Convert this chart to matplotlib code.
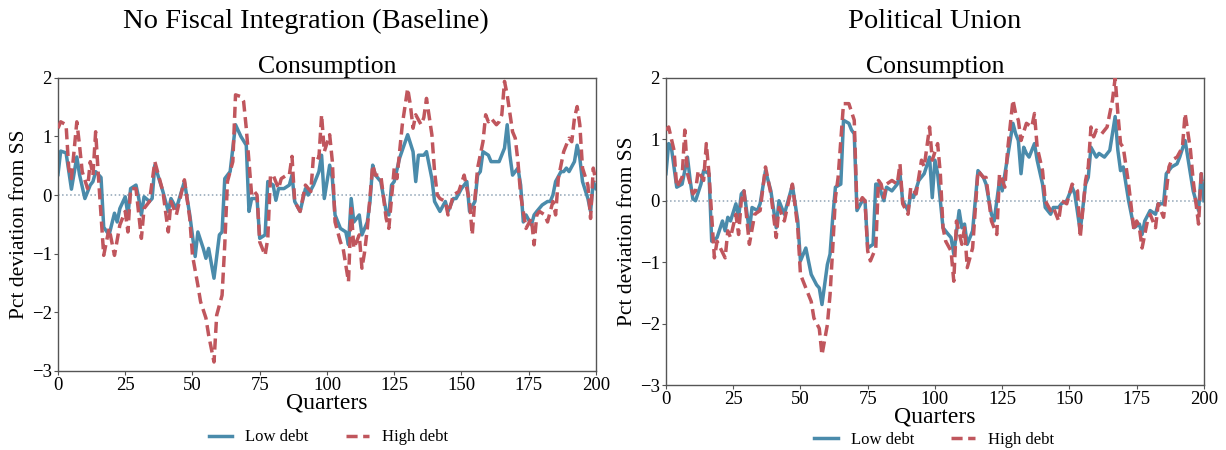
import matplotlib
matplotlib.use("Agg")
import matplotlib.pyplot as plt

# quarters / values, left panel (no fiscal integration)
q_base_low = [0, 1, 3, 5, 7, 8, 10, 12, 13, 14, 16, 17, 19, 21, 22, 23, 25, 26, 27, 29,
              30, 31, 32, 34, 35, 36, 39, 41, 42, 44, 47, 49, 51, 52, 54, 55, 56, 58, 60, 61,
              62, 64, 66, 68, 70, 71, 72, 74, 75, 77, 78, 80, 81, 82, 84, 86, 87, 88, 90, 92,
              93, 95, 97, 98, 99, 101, 102, 103, 105, 107, 108, 109, 110, 112, 113, 115, 116, 117, 118, 120,
              122, 123, 124, 125, 127, 130, 132, 133, 134, 136, 137, 139, 140, 142, 144, 145, 147, 148, 150, 152,
              153, 155, 156, 157, 158, 160, 161, 163, 164, 166, 167, 168, 169, 171, 172, 173, 174, 176, 177, 178,
              180, 182, 183, 184, 185, 187, 188, 189, 190, 192, 193, 194, 195, 197, 198, 199, 200]
base_low = [0.35, 0.75, 0.72, 0.10, 0.65, 0.35, -0.06, 0.17, 0.23, 0.40, 0.30, -0.55, -0.68, -0.31, -0.46, -0.23, -0.03, -0.34, 0.11, 0.17,
            -0.05, -0.34, -0.03, -0.11, -0.06, 0.51, 0.06, -0.28, -0.06, -0.23, 0.23, -0.34, -1.05, -0.63, -0.91, -1.08, -0.91, -1.42, -0.68, -0.63,
            0.28, 0.40, 1.20, 1.00, 0.85, -0.28, -0.06, -0.06, -0.74, -0.68, 0.23, 0.17, -0.09, 0.11, 0.11, 0.17, 0.34, -0.11, -0.28, 0.11,
            0.00, 0.17, 0.40, 0.68, -0.06, 0.51, 0.28, -0.34, -0.57, -0.63, -0.85, -0.06, -0.46, -0.34, -0.68, -0.46, -0.11, 0.51, 0.34, 0.23,
            -0.28, -0.34, 0.17, 0.23, 0.63, 1.03, 0.74, 0.23, 0.68, 0.68, 0.74, 0.28, -0.11, -0.28, -0.11, -0.28, -0.06, -0.06, 0.11, 0.23,
            -0.28, -0.11, 0.34, 0.40, 0.74, 0.68, 0.57, 0.57, 0.57, 0.80, 1.20, 0.68, 0.34, 0.46, 0.17, -0.46, -0.34, -0.51, -0.34, -0.28,
            -0.17, -0.11, -0.11, 0.00, 0.23, 0.40, 0.40, 0.46, 0.40, 0.57, 0.85, 0.63, 0.23, -0.06, -0.28, 0.23, 0.11]

q_base_high = [0, 1, 3, 4, 5, 7, 8, 9, 11, 12, 13, 14, 15, 17, 19, 21, 23, 25, 26, 27,
               29, 31, 32, 34, 36, 39, 41, 42, 44, 47, 49, 50, 52, 53, 55, 56, 58, 59, 61, 62,
               63, 65, 66, 68, 69, 70, 72, 73, 74, 75, 77, 78, 79, 80, 82, 83, 85, 86, 87, 88,
               90, 92, 94, 95, 97, 98, 99, 101, 102, 103, 105, 106, 108, 109, 110, 112, 113, 114, 115, 117,
               118, 120, 122, 123, 125, 126, 128, 130, 131, 132, 133, 135, 136, 137, 139, 140, 141, 142, 144, 145,
               147, 149, 151, 153, 154, 155, 156, 158, 159, 160, 161, 163, 164, 165, 166, 167, 169, 170, 171, 172,
               174, 176, 177, 178, 179, 181, 182, 184, 185, 186, 187, 188, 190, 191, 192, 193, 194, 195, 197, 198,
               199, 200]
base_high = [1.14, 1.25, 1.20, 0.46, 0.28, 1.25, 0.85, 0.40, 0.11, 0.57, 0.34, 1.08, 0.34, -1.03, -0.57, -1.03, -0.51, -0.28, -0.63, 0.11,
             0.11, -0.74, -0.23, -0.11, 0.57, 0.06, -0.63, -0.11, -0.34, 0.26, -0.40, -1.03, -1.54, -1.82, -2.10, -2.39, -2.85, -2.05, -1.71, -0.85,
             0.23, 0.57, 1.71, 1.68, 1.60, 1.14, 0.00, 0.06, 0.00, -0.80, -1.03, -0.74, 0.34, 0.34, 0.11, 0.28, 0.34, 0.34, 0.66, -0.11,
             -0.28, 0.17, 0.06, 0.68, 0.63, 1.37, 0.74, 1.03, 0.57, -0.46, -0.80, -0.91, -1.48, -0.23, -0.91, -0.68, -1.25, -0.97, -0.57, 0.51,
             0.34, 0.34, -0.40, -0.57, 0.46, 0.28, 1.20, 1.82, 1.54, 1.14, 1.37, 1.20, 1.32, 1.65, 1.03, 0.40, 0.00, -0.06, -0.11, -0.34,
             0.00, 0.06, 0.34, -0.11, -0.68, -0.06, 0.46, 0.91, 1.37, 1.25, 1.31, 1.20, 1.25, 1.37, 1.94, 1.71, 1.08, 0.97, 0.57, 0.00,
             -0.57, -0.40, -0.85, -0.34, -0.28, -0.34, -0.46, -0.11, -0.34, 0.28, 0.51, 0.74, 0.97, 0.91, 1.31, 1.51, 1.20, 0.46, 0.17, -0.40,
             0.46, 0.23]

# right panel (political union)
q_union_low = [0, 1, 2, 3, 4, 6, 8, 9, 10, 11, 13, 14, 16, 17, 19, 21, 22, 23, 24, 26,
               27, 28, 29, 31, 32, 34, 35, 37, 39, 41, 42, 44, 47, 49, 50, 52, 54, 56, 57, 58,
               60, 61, 62, 63, 65, 66, 68, 69, 70, 71, 73, 74, 75, 77, 78, 79, 81, 82, 84, 86,
               87, 88, 90, 91, 92, 94, 96, 98, 99, 100, 101, 103, 105, 106, 107, 109, 110, 111, 112, 114,
               116, 118, 119, 121, 122, 124, 125, 127, 129, 130, 131, 132, 133, 134, 135, 137, 138, 140, 141, 143,
               144, 146, 147, 149, 151, 152, 154, 156, 157, 158, 160, 161, 163, 165, 167, 168, 169, 170, 172, 174,
               176, 177, 178, 180, 182, 183, 185, 186, 188, 190, 191, 193, 194, 196, 197, 198, 199, 200]
union_low = [0.44, 0.93, 0.87, 0.55, 0.22, 0.27, 0.71, 0.33, 0.03, 0.00, 0.27, 0.49, 0.44, -0.66, -0.60, -0.33, -0.49, -0.27, -0.33, -0.05,
             -0.27, 0.11, 0.16, -0.49, -0.11, -0.16, -0.05, 0.49, 0.16, -0.44, 0.00, -0.22, 0.25, -0.33, -0.98, -0.77, -1.20, -1.37, -1.42, -1.69,
             -1.04, -0.87, -0.27, 0.22, 0.27, 1.31, 1.26, 1.15, 1.09, -0.16, 0.00, 0.00, -0.77, -0.71, 0.27, 0.27, 0.00, 0.22, 0.16, 0.27,
             0.44, 0.00, -0.16, 0.11, 0.05, 0.33, 0.44, 0.71, 0.05, 0.66, 0.44, -0.44, -0.55, -0.60, -0.87, -0.16, -0.44, -0.38, -0.71, -0.49,
             0.49, 0.38, 0.27, -0.22, -0.33, 0.33, 0.16, 0.71, 1.26, 1.09, 0.98, 0.44, 0.87, 0.77, 0.71, 0.93, 0.66, 0.27, -0.11, -0.22,
             -0.11, -0.11, -0.05, 0.00, 0.22, 0.11, -0.49, 0.27, 0.38, 0.87, 0.71, 0.77, 0.71, 0.82, 1.37, 0.82, 0.49, 0.55, 0.00, -0.44,
             -0.38, -0.55, -0.33, -0.16, -0.22, -0.05, -0.05, 0.44, 0.55, 0.60, 0.71, 0.98, 0.71, 0.16, 0.00, -0.16, 0.44, 0.00]

q_union_high = [0, 1, 3, 4, 6, 7, 8, 10, 11, 12, 14, 15, 16, 18, 19, 22, 23, 24, 26, 27,
                28, 29, 31, 33, 35, 37, 39, 41, 42, 44, 47, 49, 50, 52, 54, 55, 57, 58, 60, 61,
                62, 63, 64, 66, 68, 70, 71, 73, 74, 75, 76, 78, 79, 80, 81, 82, 84, 86, 87, 88,
                90, 91, 93, 95, 96, 98, 99, 101, 102, 103, 104, 106, 107, 108, 110, 111, 112, 114, 116, 118,
                119, 121, 123, 124, 126, 127, 129, 130, 131, 132, 134, 136, 137, 138, 140, 141, 143, 144, 146, 147,
                149, 151, 153, 154, 156, 157, 158, 159, 160, 162, 164, 166, 167, 168, 169, 170, 172, 174, 175, 176,
                177, 179, 180, 182, 183, 185, 187, 188, 190, 192, 193, 195, 196, 198, 199, 200]
union_high = [1.15, 1.20, 0.82, 0.22, 0.38, 1.15, 0.44, 0.11, 0.16, 0.49, 0.33, 0.93, 0.44, -0.93, -0.66, -0.93, -0.49, -0.60, -0.22, -0.55,
              0.00, 0.16, -0.71, -0.22, -0.16, 0.55, 0.11, -0.60, -0.11, -0.33, 0.27, -0.44, -1.20, -1.42, -1.64, -1.91, -2.08, -2.51, -2.02, -1.53,
              -0.77, 0.05, 0.38, 1.58, 1.58, 1.31, -0.11, 0.05, 0.00, -0.82, -0.98, -0.77, 0.33, 0.27, 0.05, 0.27, 0.33, 0.27, 0.60, -0.05,
              -0.22, 0.22, 0.11, 0.66, 0.55, 1.20, 0.66, 0.93, 0.44, -0.44, -0.66, -0.82, -1.31, -0.33, -0.71, -0.44, -1.09, -0.77, 0.49, 0.38,
              0.38, -0.33, -0.55, 0.44, 0.22, 0.82, 1.64, 1.42, 1.31, 0.98, 1.26, 1.20, 1.42, 0.87, 0.49, 0.00, -0.16, -0.11, -0.33, 0.00,
              -0.05, 0.27, 0.16, -0.60, 0.33, 0.55, 1.20, 1.04, 1.15, 1.09, 1.20, 1.64, 2.00, 1.42, 0.93, 0.87, 0.27, -0.49, -0.33, -0.44,
              -0.77, -0.33, -0.22, -0.44, -0.05, -0.27, 0.55, 0.66, 0.71, 0.87, 1.42, 0.82, 0.33, -0.38, 0.44, 0.33]

panel_titles = ["No Fiscal Integration (Baseline)", "Political Union"]
x_ticks = [0, 25, 50, 75, 100, 125, 150, 175, 200]
y_ticks = [-3, -2, -1, 0, 1, 2]

blue = "#4a8bab"
red = "#c0565d"

plt.rcParams["font.family"] = ["Liberation Serif", "DejaVu Serif"]

fig = plt.figure(figsize=(12.26, 4.5), dpi=100)
ax1 = fig.add_axes([0.0473, 0.176, 0.4388, 0.651])
ax2 = fig.add_axes([0.5432, 0.1444, 0.4388, 0.6826])

panels = [
    (ax1, q_base_low, base_low, q_base_high, base_high),
    (ax2, q_union_low, union_low, q_union_high, union_high),
]

for ax, ql, lo, qh, hi in panels:
    ax.axhline(0, color="#8fa3b5", linestyle=":", linewidth=1.1, zorder=1)
    ax.plot(ql, lo, color=blue, linewidth=2.5, label="Low debt", zorder=2)
    ax.plot(qh, hi, color=red, linewidth=2.5, linestyle=(0, (3.2, 1.6)), label="High debt", zorder=3)
    ax.set_xlim(0, 200)
    ax.set_ylim(-3, 2)
    ax.set_xticks(x_ticks)
    ax.set_yticks(y_ticks)
    ax.tick_params(labelsize=13.5, length=3, pad=1.5, color="#555555")
    ax.set_title("Consumption", fontsize=18.5, pad=3)
    ax.set_xlabel("Quarters", fontsize=17, labelpad=-1)
    ax.set_ylabel("Pct deviation from SS", fontsize=15.5, labelpad=2)
    for sp in ax.spines.values():
        sp.set_color("#555555")
        sp.set_linewidth(1.0)

fig.text(0.2495, 0.952, panel_titles[0], ha="center", va="center", fontsize=20.5)
fig.text(0.7627, 0.952, panel_titles[1], ha="center", va="center", fontsize=20.5)

fig.legend(handles=ax1.lines[1:3], loc="center", bbox_to_anchor=(0.268, 0.028),
           ncol=2, frameon=False, fontsize=12, handlelength=1.4, columnspacing=2.2)
fig.legend(handles=ax2.lines[1:3], loc="center", bbox_to_anchor=(0.762, 0.022),
           ncol=2, frameon=False, fontsize=12, handlelength=1.4, columnspacing=2.2)

fig.savefig("out.png", dpi=100)
